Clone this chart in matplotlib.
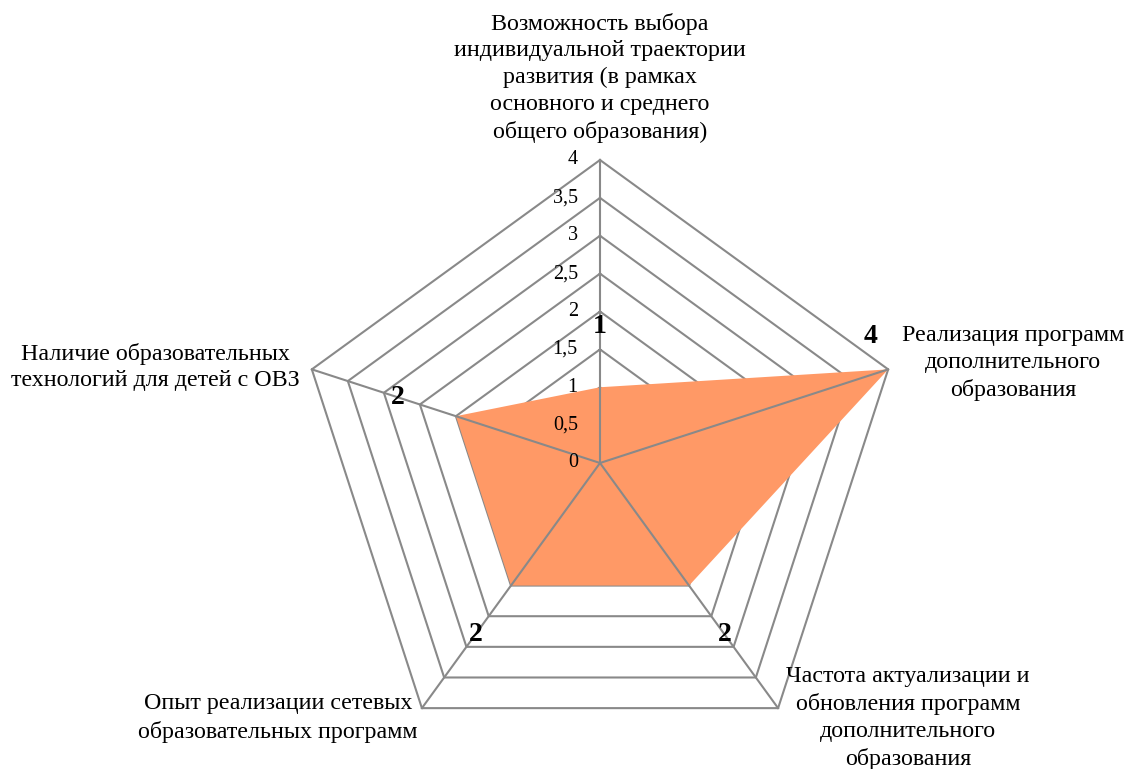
import numpy as np
import matplotlib
matplotlib.use("Agg")
import matplotlib.pyplot as plt

plt.rcParams['font.family'] = ['Liberation Serif', 'DejaVu Serif']

categories = [
    "Возможность выбора\nиндивидуальной траектории\nразвития (в рамках\nосновного и среднего\nобщего образования)",
    "Реализация программ\nдополнительного\nобразования",
    "Частота актуализации и\nобновления программ\nдополнительного\nобразования",
    "Опыт реализации сетевых\nобразовательных программ",
    "Наличие образовательных\nтехнологий для детей с ОВЗ",
]
values = [1, 4, 2, 2, 2]
ring_levels = [0.5, 1, 1.5, 2, 2.5, 3, 3.5, 4]
tick_labels = ["0", "0,5", "1", "1,5", "2", "2,5", "3", "3,5", "4"]
tick_values = [0, 0.5, 1, 1.5, 2, 2.5, 3, 3.5, 4]

W, H = 1128, 769
fig = plt.figure(figsize=(W / 100, H / 100), dpi=100)
cx, cy, R = 600, 463, 303
ax = fig.add_axes([(cx - R) / W, (H - cy - R) / H, 2 * R / W, 2 * R / H], projection='polar')
ax.set_theta_offset(np.pi / 2)
ax.set_theta_direction(-1)
ax.set_ylim(0, 4)
ax.grid(False)
ax.spines['polar'].set_visible(False)
ax.set_xticks([])
ax.set_yticks([])
ax.patch.set_alpha(0)

n = len(categories)
theta = np.arange(n) * 2 * np.pi / n
tc = np.append(theta, theta[0])

grid_color = '#898989'
for lv in ring_levels:
    ax.plot(tc, [lv] * (n + 1), color=grid_color, lw=1.5, zorder=1, clip_on=False)

vc = values + [values[0]]
ax.fill(tc, vc, color='#FF9966', zorder=2, lw=0)

for t in theta:
    ax.plot([t, t], [0, 4], color=grid_color, lw=1.5, zorder=3, clip_on=False)

for tv, tl in zip(tick_values, tick_labels):
    ax.annotate(tl, xy=(0, tv), xytext=(-16, 0), textcoords='offset points',
                ha='right', va='center', fontsize=14.5)

# data labels
for t, v in zip(theta, values):
    if v >= 4:
        ax.annotate(str(v), xy=(t, v), xytext=(-13, 24), textcoords='offset points',
                    ha='center', va='center', fontsize=20, fontweight='bold')
    else:
        ax.annotate(str(v), xy=(t, v + 0.8), ha='center', va='center',
                    fontsize=20, fontweight='bold')

# category labels
label_pos = [
    (600, 78, 'center'),
    (1013, 363, 'center'),
    (908, 718, 'center'),
    (278, 718, 'center'),
    (155, 367, 'center'),
]
for (x, y, ha), lab in zip(label_pos, categories):
    fig.text(x / W, 1 - y / H, lab, ha=ha, va='center', fontsize=17.3, linespacing=1.36,
             multialignment='center')

fig.savefig('out.png', dpi=100)
